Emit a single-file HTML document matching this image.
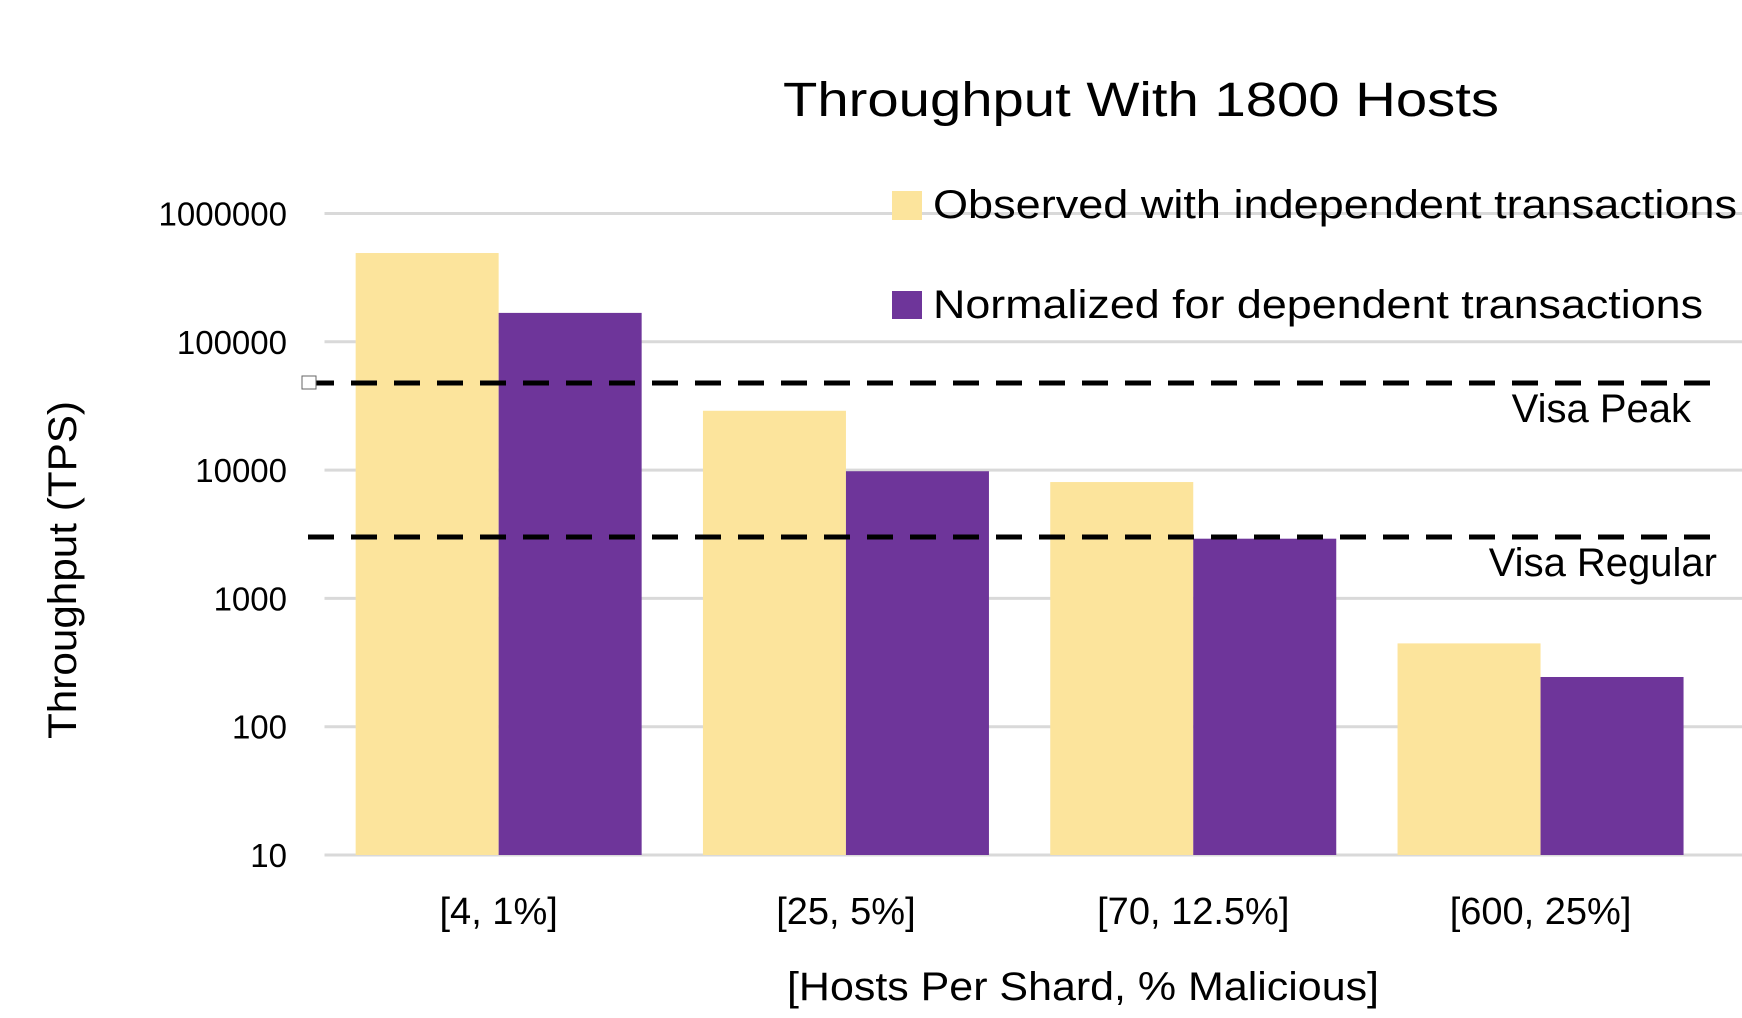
<!DOCTYPE html>
<html><head><meta charset="utf-8"><style>
html,body{margin:0;padding:0;background:#fff;}
svg{display:block;font-family:"Liberation Sans",sans-serif;}
</style></head><body>
<svg id="chart" width="1742" height="1018" viewBox="0 0 1742 1018">
<text x="1141" y="116" font-size="48" text-anchor="middle" textLength="716" lengthAdjust="spacingAndGlyphs">Throughput  With  1800  Hosts</text>
<g id="grid"></g>
<g id="bars"></g>
<g id="refs"></g>
<g id="yticks"></g>
<g id="xticks"></g>
<text transform="translate(76,570) rotate(-90)" font-size="40" text-anchor="middle" textLength="338" lengthAdjust="spacingAndGlyphs">Throughput (TPS)</text>
<text x="1083" y="1000" font-size="40" text-anchor="middle" textLength="592" lengthAdjust="spacingAndGlyphs">[Hosts Per Shard, % Malicious]</text>
<g>
<rect x="892" y="191" width="30" height="29" fill="#FCE49C"/>
<text x="933" y="218" font-size="40" textLength="804" lengthAdjust="spacingAndGlyphs">Observed with independent transactions</text>
<rect x="892" y="291" width="30" height="28" fill="#6E359A"/>
<text x="933" y="318" font-size="40" textLength="770" lengthAdjust="spacingAndGlyphs">Normalized for dependent transactions</text>
</g>
<rect x="302" y="376" width="14" height="13" fill="#fff" stroke="#666" stroke-width="1"/>
</svg>
<script>
const categories = ["[4, 1%]", "[25, 5%]", "[70, 12.5%]", "[600, 25%]"];
const observed = [492000, 29000, 8070, 446];
const normalized = [168000, 9800, 2920, 244];
const yTicks = [10, 100, 1000, 10000, 100000, 1000000];
const refNames = ["Visa Peak", "Visa Regular"];
const refValues = [47700, 3010];

const NS = "http://www.w3.org/2000/svg";
const plotL = 324.5, plotR = 1742, catW = 347.3, barW = 143;
const catStart = 325;
const y0 = 855, decade = 128.3;
function yScale(v){ return y0 - (Math.log10(v) - 1) * decade; }
function xCat(i){ return catStart + catW * i + catW / 2; }
function mk(tag, attrs, parent){ const e = document.createElementNS(NS, tag); for (const k in attrs) e.setAttribute(k, attrs[k]); parent.appendChild(e); return e; }

const grid = document.getElementById("grid"), yt = document.getElementById("yticks");
yTicks.forEach(v => {
  const y = yScale(v);
  const l = mk("line", {x1: plotL, x2: plotR, y1: y, y2: y, stroke: "#d9d9d9", "stroke-width": 3}, grid);
  
  
  const t = mk("text", {x: 287, y: y + 12, "font-size": 33, "text-anchor": "end"}, yt);
  t.textContent = String(v);
  
  
});

const bars = document.getElementById("bars"), xt = document.getElementById("xticks");
categories.forEach((c, i) => {
  const cx = xCat(i);
  const b1 = mk("rect", {x: cx - barW, y: yScale(observed[i]), width: barW, height: y0 - yScale(observed[i]), fill: "#FCE49C"}, bars);
  
  
  const b2 = mk("rect", {x: cx, y: yScale(normalized[i]), width: barW, height: y0 - yScale(normalized[i]), fill: "#6E359A"}, bars);
  
  
  const t = mk("text", {x: cx, y: 924, "font-size": 38, "text-anchor": "middle"}, xt);
  t.textContent = c;
  
  
});

const refs = document.getElementById("refs");
const refLabelX = [1691, 1717];
refValues.forEach((v, i) => {
  const y = yScale(v);
  const l = mk("line", {x1: 308, x2: 1717, y1: y, y2: y, stroke: "#000", "stroke-width": 5, "stroke-dasharray": "26 17"}, refs);
  
  
  const t = mk("text", {x: refLabelX[i], y: y + 39, "font-size": 40, "text-anchor": "end"}, refs);
  t.textContent = refNames[i];
  
  
});
</script>
</body></html>
